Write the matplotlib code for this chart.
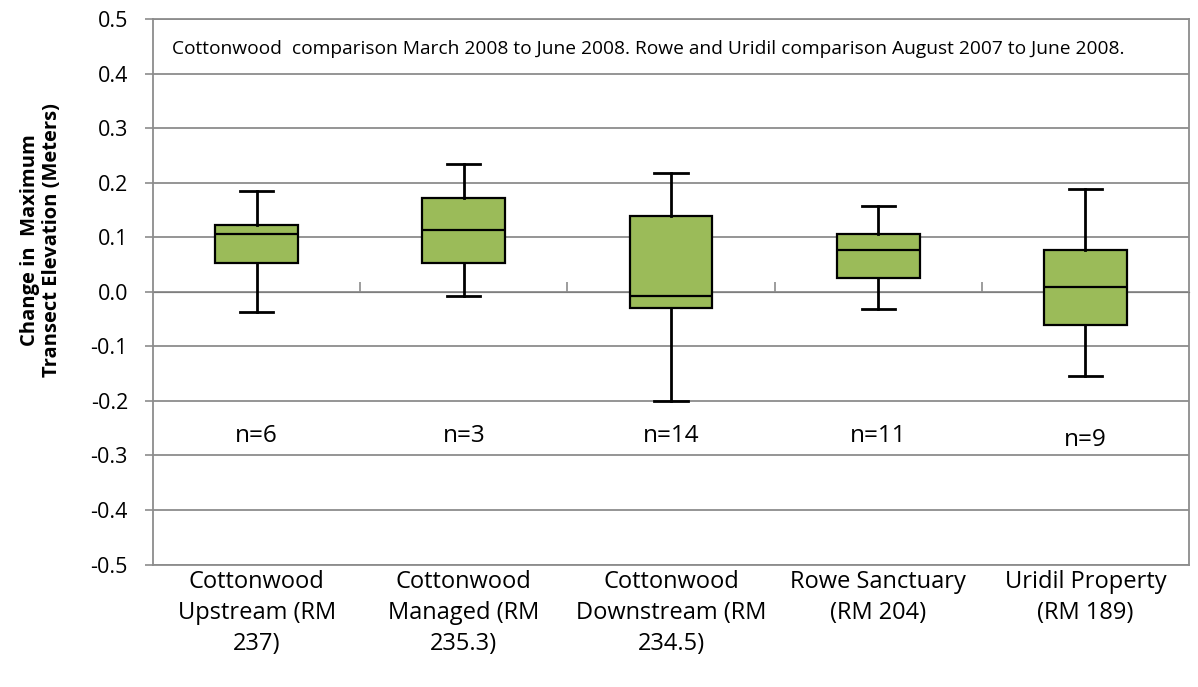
import numpy as np
import matplotlib.pyplot as plt

# box plot summary for each reach (min, q1, median, q3, max)
sites = ["Cottonwood\nUpstream (RM\n237)", "Cottonwood\nManaged (RM\n235.3)",
         "Cottonwood\nDownstream (RM\n234.5)", "Rowe Sanctuary\n(RM 204)",
         "Uridil Property\n(RM 189)"]
lo = [-0.038, -0.007, -0.201, -0.031, -0.154]
q1 = [0.052, 0.053, -0.030, 0.025, -0.061]
med = [0.106, 0.113, -0.007, 0.077, 0.009]
q3 = [0.122, 0.172, 0.138, 0.106, 0.077]
hi = [0.184, 0.234, 0.217, 0.157, 0.188]
n_obs = [6, 3, 14, 11, 9]
n_y = [-0.265, -0.265, -0.265, -0.265, -0.272]

plt.rcParams['font.family'] = ['Open Sans', 'DejaVu Sans']
grey = '#8c8c8c'

fig = plt.figure(figsize=(11.98, 6.87), dpi=100)
ax = fig.add_axes([0.1277, 0.1783, 0.8648, 0.7940])

stats = []
for i in range(len(sites)):
    stats.append(dict(whislo=lo[i], q1=q1[i], med=med[i], q3=q3[i], whishi=hi[i], fliers=[]))
pos = np.arange(1, len(sites) + 1)
ax.bxp(stats, positions=pos, widths=0.4, capwidths=0.16, patch_artist=True,
       boxprops=dict(facecolor='#9bbb59', edgecolor='black', linewidth=1.6),
       medianprops=dict(color='black', linewidth=1.6),
       whiskerprops=dict(color='black', linewidth=2.0),
       capprops=dict(color='black', linewidth=2.0), zorder=3)

for p, n, y in zip(pos, n_obs, n_y):
    ax.text(p, y, "n=%d" % n, ha='center', va='center', fontsize=17.5)

ax.text(0.478, 0.945, "Cottonwood  comparison March 2008 to June 2008. Rowe and Uridil comparison August 2007 to June 2008.",
        transform=ax.transAxes, ha='center', va='center', fontsize=13.8)

yt = np.round(np.arange(-0.5, 0.51, 0.1), 1) + 0.0
ax.set_xlim(0.5, 5.5)
ax.set_ylim(-0.5, 0.5)
ax.set_yticks(yt)
ax.set_yticklabels(["%.1f" % v for v in yt], fontsize=15.5)
ax.set_xticks(pos)
ax.set_xticklabels(sites, fontsize=17, linespacing=1.38)
ax.tick_params(axis='x', length=0, pad=4)
ax.tick_params(axis='y', length=6, color=grey, width=1.2, pad=12)
ax.grid(axis='y', color=grey, linewidth=1.3, zorder=0)
for s in ax.spines.values():
    s.set_color(grey)
    s.set_linewidth(1.3)

# category ticks along the zero line
sec = ax.secondary_xaxis(0.5)
sec.set_xticks(pos[:-1] + 0.5)
sec.set_xticklabels([])
sec.tick_params(direction='out', length=7, color=grey, width=1.2)
sec.spines['bottom'].set_visible(False)

ax.set_ylabel("Change in  Maximum\nTransect Elevation (Meters)", fontsize=14.5,
              fontweight='bold', linespacing=1.1)
ax.yaxis.set_label_coords(-0.088, 0.595)

fig.savefig("out.png", dpi=100)
